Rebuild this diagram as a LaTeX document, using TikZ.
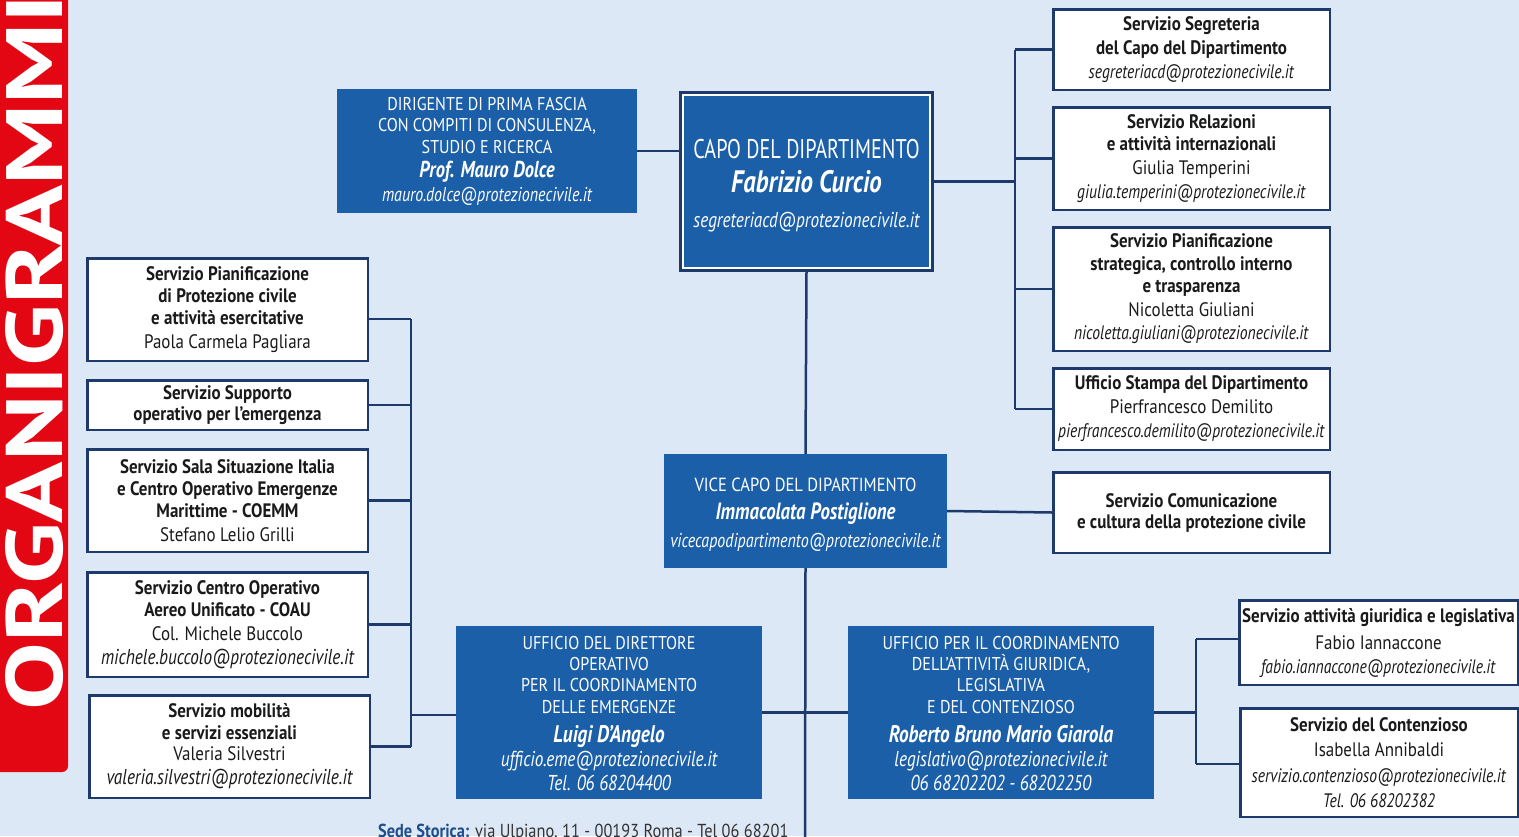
\documentclass[tikz,border=0pt]{standalone}
\usepackage{fontspec}
\usepackage{graphicx}
\setmainfont{PT Sans}[FakeStretch=0.87, ItalicFeatures={FakeStretch=0.8}, BoldItalicFeatures={FakeStretch=0.8}]
\usetikzlibrary{calc}
\definecolor{bg}{HTML}{DDE8F6}
\definecolor{navy}{HTML}{1E3A6D}
\definecolor{cblue}{HTML}{1B5FA9}
\definecolor{redband}{HTML}{E30613}
\definecolor{ink}{HTML}{1A1A1A}
\definecolor{sedeblue}{HTML}{1F4E8C}
\definecolor{sedegray}{HTML}{333333}
\newcommand{\fs}[2]{\fontsize{#1}{#2}\selectfont}
\begin{document}
\begin{tikzpicture}[x=1pt,y=-1pt,
  wbox/.style={draw=navy, line width=2.5pt, fill=white, text=ink, align=center, inner sep=0pt, font=\fs{19.5}{23}},
  bbox/.style={fill=cblue, text=white, align=center, inner sep=0pt},
  conn/.style={draw=navy, line width=2.5pt}]
\useasboundingbox (0,0) rectangle (1519,836);
\fill[bg] (0,0) rectangle (1519,836);
% red band
\fill[redband, rounded corners=6pt] (-10,-10) -- (68,-10) -- (68,772) -- (-10,772) -- cycle;
\node[rotate=90, anchor=base west, inner sep=0pt, text=white] (title) at (62,711)
  {\resizebox{716pt}{57pt}{\bfseries ORGANIGRAMMI}};

% top blue boxes
\node[bbox, minimum width=300pt, minimum height=124pt, font=\fs{18.5}{21.5}] (dir) at (487,151)
  {DIRIGENTE DI PRIMA FASCIA\\CON COMPITI DI CONSULENZA,\\STUDIO E RICERCA\\[2.5pt]
   {\fs{23}{24}\bfseries\itshape Prof. Mauro Dolce}\\[2.5pt]{\fs{20}{24}\itshape mauro.dolce@protezionecivile.it}};
\node[bbox, draw=navy, line width=5pt, minimum width=250pt, minimum height=176pt] (capo) at (806.5,181.5) {};
\draw[white, line width=1.6pt] ([shift={(4pt,-4pt)}]capo.north west) rectangle ([shift={(-4pt,4pt)}]capo.south east);
\node[text=white, align=center, inner sep=0pt, font=\fs{27}{34}] (capotxt) at (806.5,186)
  {\scalebox{0.86}[1]{CAPO DEL DIPARTIMENTO}\\{\fs{31}{34}\bfseries\itshape Fabrizio Curcio}\\[1pt]{\fs{21.5}{34}\itshape segreteriacd@protezionecivile.it}};

% right column
\node[wbox, minimum width=276.5pt, minimum height=80.5pt, font=\fs{19.5}{24}] (seg) at (1191.5,49.5)
  {\textbf{Servizio Segreteria}\\\textbf{del Capo del Dipartimento}\\\textit{segreteriacd@protezionecivile.it}};
\node[wbox, minimum width=276.5pt, minimum height=102.5pt, font=\fs{19.5}{22.5}] (rel) at (1191.5,158.5)
  {\textbf{Servizio Relazioni}\\\textbf{e attività internazionali}\\[1.5pt]Giulia Temperini\\[1.5pt]\textit{giulia.temperini@protezionecivile.it}};
\node[wbox, minimum width=276.5pt, minimum height=123.5pt, font=\fs{19.5}{22.5}] (pian) at (1191.5,289)
  {\textbf{Servizio Pianificazione}\\\textbf{strategica, controllo interno}\\\textbf{e trasparenza}\\[1pt]Nicoletta Giuliani\\[1pt]\textit{nicoletta.giuliani@protezionecivile.it}};
\node[wbox, minimum width=276.5pt, minimum height=81.5pt, font=\fs{19.5}{24}] (stampa) at (1191.5,409)
  {\textbf{Ufficio Stampa del Dipartimento}\\Pierfrancesco Demilito\\\textit{pierfrancesco.demilito@protezionecivile.it}};
\node[wbox, minimum width=276.5pt, minimum height=80.5pt, font=\fs{19.5}{21}] (comm) at (1191.5,512.5)
  {\textbf{Servizio Comunicazione}\\\textbf{e cultura della protezione civile}};

% vice
\node[bbox, minimum width=283pt, minimum height=114pt, font=\fs{19}{28}] (vice) at (805.5,511) {};
\node[text=white, align=center, inner sep=0pt, font=\fs{19}{28}] (vicetxt) at (805.5,515)
  {VICE CAPO DEL DIPARTIMENTO\\{\fs{23.5}{28}\bfseries\itshape Immacolata Postiglione}\\{\fs{20}{28}\itshape vicecapodipartimento@protezionecivile.it}};

% left column
\node[wbox, minimum width=280.5pt, minimum height=102.5pt, font=\fs{19.5}{22}] (p1) at (227.5,309.5)
  {\textbf{Servizio Pianificazione}\\\textbf{di Protezione civile}\\\textbf{e attività esercitative}\\[1.5pt]Paola Carmela Pagliara};
\node[wbox, minimum width=280.5pt, minimum height=49.5pt, font=\fs{19.5}{20.5}] (p2) at (227.5,405)
  {\textbf{Servizio Supporto}\\\textbf{operativo per l’emergenza}};
\node[wbox, minimum width=280.5pt, minimum height=102.5pt, font=\fs{19.5}{22}] (p3) at (227.5,500.5)
  {\textbf{Servizio Sala Situazione Italia}\\\textbf{e Centro Operativo Emergenze}\\\textbf{Marittime - COEMM}\\[1.5pt]Stefano Lelio Grilli};
\node[wbox, minimum width=280.5pt, minimum height=104.5pt, font=\fs{19.5}{22}] (p4) at (227.5,624.5)
  {\textbf{Servizio Centro Operativo}\\\textbf{Aereo Unificato - COAU}\\[2pt]Col. Michele Buccolo\\[2pt]{\fs{21.5}{22}\itshape michele.buccolo@protezionecivile.it}};
\node[wbox, minimum width=280.5pt, minimum height=102.5pt, font=\fs{19.5}{21.5}] (p5) at (229.5,746.5)
  {\textbf{Servizio mobilità}\\\textbf{e servizi essenziali}\\Valeria Silvestri\\[2.5pt]{\fs{21.5}{22}\itshape valeria.silvestri@protezionecivile.it}};

% bottom blue boxes
\node[bbox, minimum width=306pt, minimum height=173pt, font=\fs{18.5}{21.3}] (dir2) at (609,712.5) {};
\node[text=white, align=center, inner sep=0pt, font=\fs{18.5}{21.3}] (dir2txt) at (609,713.5)
  {UFFICIO DEL DIRETTORE\\OPERATIVO\\PER IL COORDINAMENTO\\DELLE EMERGENZE\\[8.5pt]
   {\fs{24}{24}\bfseries\itshape Luigi D'Angelo}\\[2.7pt]{\fs{21.5}{24}\itshape ufficio.eme@protezionecivile.it}\\[2.7pt]{\fs{21.5}{24}\itshape Tel. 06 68204400}};
\node[bbox, minimum width=306pt, minimum height=173pt, font=\fs{18.5}{21.3}] (coord) at (1001,712.5) {};
\node[text=white, align=center, inner sep=0pt, font=\fs{18.5}{21.3}] (coordtxt) at (1001,713.5)
  {UFFICIO PER IL COORDINAMENTO\\DELL’ATTIVITÀ GIURIDICA,\\LEGISLATIVA\\E DEL CONTENZIOSO\\[8.5pt]
   {\fs{24}{24}\bfseries\itshape Roberto Bruno Mario Giarola}\\[2.7pt]{\fs{21.5}{24}\itshape legislativo@protezionecivile.it}\\[2.7pt]{\fs{21.5}{24}\itshape 06 68202202 - 68202250}};

% right bottom
\node[wbox, minimum width=278.5pt, minimum height=84.5pt, font=\fs{19.5}{24}] (g1) at (1378.5,642.5)
  {\textbf{Servizio attività giuridica e legislativa}\\[3pt]Fabio Iannaccone\\\textit{fabio.iannaccone@protezionecivile.it}};
\node[wbox, minimum width=277.5pt, minimum height=108.5pt, font=\fs{19.5}{25.5}] (g2) at (1379,762.5)
  {\textbf{Servizio del Contenzioso}\\Isabella Annibaldi\\\textit{servizio.contenzioso@protezionecivile.it}\\\textit{Tel. 06 68202382}};

% connectors
\coordinate (rj) at (1015,0);
\coordinate (lj) at (411,0);
\coordinate (rbj) at (1196,0);
\coordinate (bottomend) at (805,840);
\draw[conn] (dir.east) -- (dir.east -| capo.west);
\draw[conn] (capo.east) -- (capo.east -| rj);
\draw[conn] (seg.west -| rj) -- (stampa.west -| rj);
\foreach \n in {seg,rel,pian,stampa} \draw[conn] (\n.west -| rj) -- (\n.west);
\draw[conn] (capo.south) -- (vice.north);
\draw[conn] (vice.south) -- (bottomend);
\draw[conn] (vice.east) -- (comm.west);
\draw[conn] (dir2.east) -- (coord.west);
\draw[conn] ([yshift=-9.5pt]p1.east -| lj) -- (p5.east -| lj);
\draw[conn] ([yshift=-9.5pt]p1.east) -- ([yshift=-9.5pt]p1.east -| lj);
\foreach \n in {p2,p3,p4,p5} \draw[conn] (\n.east) -- (\n.east -| lj);
\draw[conn] ([yshift=-2.5pt]dir2.west) -- ([yshift=-2.5pt]dir2.west -| lj);
\draw[conn] (coord.east) -- (coord.east -| rbj);
\draw[conn] ([yshift=3.5pt]g1.west -| rbj) -- ([yshift=-1.5pt]g2.west -| rbj);
\draw[conn] ([yshift=3.5pt]g1.west -| rbj) -- ([yshift=3.5pt]g1.west);
\draw[conn] ([yshift=-1.5pt]g2.west -| rbj) -- ([yshift=-1.5pt]g2.west);

% footer
\node[anchor=base west, inner sep=0pt, text=sedegray, font=\fs{18.8}{21}] (sede) at (378,837)
  {\textcolor{sedeblue}{\textbf{Sede Storica:}} via Ulpiano, 11 - 00193 Roma - Tel 06 68201};
\end{tikzpicture}
\end{document}
